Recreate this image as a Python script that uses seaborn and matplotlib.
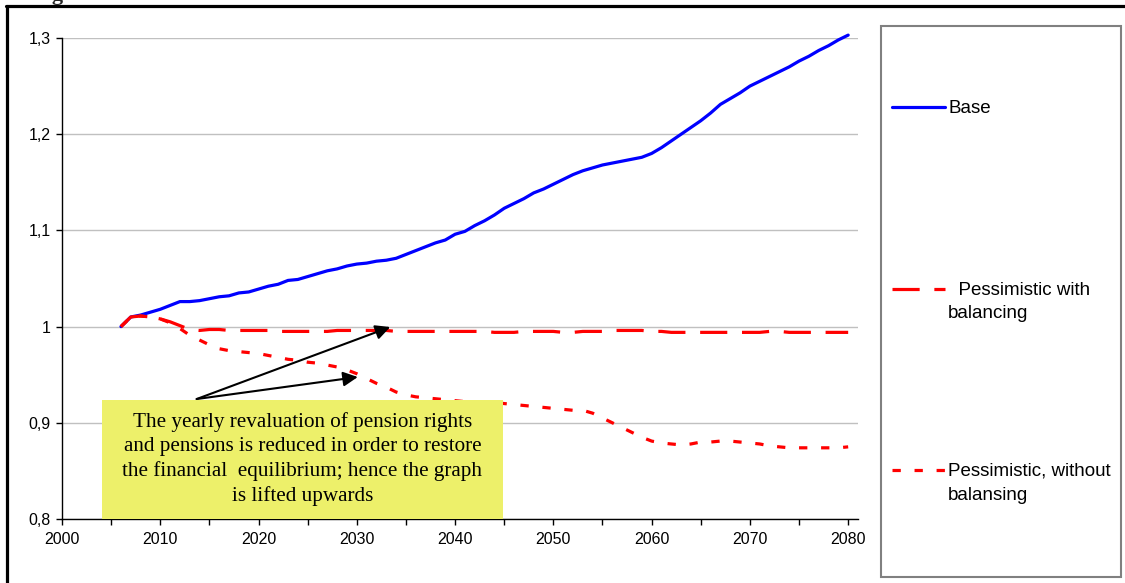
import matplotlib
matplotlib.use("Agg")
import matplotlib.pyplot as plt
from matplotlib.patches import Rectangle
from matplotlib.lines import Line2D
from matplotlib.ticker import FixedLocator, FixedFormatter
import pandas as pd
import seaborn as sns

# ---- data -------------------------------------------------------------
years = list(range(2006, 2081))

base = [
    1.000, 1.010, 1.012, 1.015, 1.018, 1.022, 1.026, 1.026, 1.027, 1.029,
    1.031, 1.032, 1.035, 1.036, 1.039, 1.042, 1.044, 1.048, 1.049, 1.052,
    1.055, 1.058, 1.060, 1.063, 1.065, 1.066, 1.068, 1.069, 1.071, 1.075,
    1.079, 1.083, 1.087, 1.090, 1.096, 1.099, 1.105, 1.110, 1.116, 1.123,
    1.128, 1.133, 1.139, 1.143, 1.148, 1.153, 1.158, 1.162, 1.165, 1.168,
    1.170, 1.172, 1.174, 1.176, 1.180, 1.186, 1.193, 1.200, 1.207, 1.214,
    1.222, 1.231, 1.237, 1.243, 1.250, 1.255, 1.260, 1.265, 1.270, 1.276,
    1.281, 1.287, 1.292, 1.298, 1.303,
]

pess_balancing = [
    1.000, 1.010, 1.011, 1.010, 1.008, 1.005, 1.001, 0.997, 0.996, 0.997,
    0.997, 0.996, 0.996, 0.996, 0.996, 0.996, 0.995, 0.995, 0.995, 0.995,
    0.995, 0.995, 0.996, 0.996, 0.996, 0.996, 0.996, 0.996, 0.995, 0.995,
    0.995, 0.995, 0.995, 0.995, 0.995, 0.995, 0.995, 0.995, 0.994, 0.994,
    0.994, 0.995, 0.995, 0.995, 0.995, 0.994, 0.994, 0.995, 0.995, 0.995,
    0.996, 0.996, 0.996, 0.996, 0.995, 0.995, 0.994, 0.994, 0.994, 0.994,
    0.994, 0.994, 0.994, 0.994, 0.994, 0.994, 0.995, 0.995, 0.994, 0.994,
    0.994, 0.994, 0.994, 0.994, 0.994,
]

pess_no_balancing = [
    1.000, 1.010, 1.011, 1.010, 1.008, 1.004, 0.998, 0.991, 0.986, 0.981,
    0.977, 0.975, 0.974, 0.973, 0.972, 0.970, 0.968, 0.966, 0.965, 0.963,
    0.962, 0.960, 0.958, 0.955, 0.951, 0.946, 0.941, 0.937, 0.932, 0.929,
    0.927, 0.926, 0.925, 0.924, 0.923, 0.922, 0.922, 0.921, 0.921, 0.920,
    0.919, 0.918, 0.917, 0.916, 0.915, 0.914, 0.913, 0.913, 0.910, 0.905,
    0.900, 0.895, 0.890, 0.885, 0.881, 0.879, 0.878, 0.877, 0.878, 0.880,
    0.880, 0.881, 0.881, 0.880, 0.879, 0.878, 0.876, 0.875, 0.874, 0.874,
    0.874, 0.874, 0.874, 0.874, 0.875,
]

series_labels = ["Base", "  Pessimistic with\nbalancing",
                 "Pessimistic, without\nbalansing"]
y_ticks = [0.8, 0.9, 1.0, 1.1, 1.2, 1.3]
y_tick_labels = ["0,8", "0,9", "1", "1,1", "1,2", "1,3"]
x_major = list(range(2000, 2081, 10))
x_minor = list(range(2005, 2081, 10))
note_text = ("The yearly revaluation of pension rights\n"
             "and pensions is reduced in order to restore\n"
             "the financial  equilibrium; hence the graph\n"
             "is lifted upwards")

# ---- styling ----------------------------------------------------------
sns.set_style("white")
plt.rcParams["font.family"] = ["Liberation Sans", "DejaVu Sans"]

colors = {"base": "#0000FF", "bal": "#FF0000", "nobal": "#FF0000"}
dash_styles = {"base": "", "bal": (8.5, 4.6), "nobal": (2.6, 4.3)}
LW = 2.3

df = pd.concat([
    pd.DataFrame({"year": years, "value": base, "series": "base"}),
    pd.DataFrame({"year": years, "value": pess_balancing, "series": "bal"}),
    pd.DataFrame({"year": years, "value": pess_no_balancing, "series": "nobal"}),
], ignore_index=True)

W, H = 1125, 583
fig = plt.figure(figsize=(W / 100, H / 100), dpi=100)
ax_w, ax_h = 858 - 62, 519 - 38
ax = fig.add_axes([62 / W, 1 - 519 / H, ax_w / W, ax_h / H])

sns.lineplot(data=df, x="year", y="value", hue="series", style="series",
             palette=colors, dashes=dash_styles, linewidth=LW,
             legend=False, ax=ax, zorder=3)
for ln in ax.lines:
    ln.set_clip_on(False)

ax.set_xlim(2000, 2081)
ax.set_ylim(0.8, 1.3)
ax.set_xlabel("")
ax.set_ylabel("")

ax.yaxis.set_major_locator(FixedLocator(y_ticks))
ax.yaxis.set_major_formatter(FixedFormatter(y_tick_labels))
ax.xaxis.set_major_locator(FixedLocator(x_major))
ax.xaxis.set_minor_locator(FixedLocator(x_minor))
ax.set_xticklabels([str(v) for v in x_major])

ax.grid(axis="y", color="#C0C0C0", linewidth=1.0)
ax.grid(axis="x", visible=False)
ax.set_axisbelow(True)

for side in ("top", "right"):
    ax.spines[side].set_visible(False)
for side in ("left", "bottom"):
    ax.spines[side].set_color("black")
    ax.spines[side].set_linewidth(1.0)

ax.tick_params(axis="both", which="both", direction="out", length=4,
               width=1, color="black", labelsize=11.5, labelcolor="black")
ax.tick_params(axis="x", which="both", pad=5, bottom=True)
ax.tick_params(axis="y", pad=4, left=True)

# ---- annotation box with arrows ---------------------------------------
box_left, box_right, box_top = 102 - 62, 503 - 62, 519 - 400
ax.add_patch(Rectangle((box_left / ax_w, 0), (box_right - box_left) / ax_w,
                       box_top / ax_h, transform=ax.transAxes,
                       facecolor="#EDF06A", edgecolor="none", zorder=6,
                       clip_on=False))
ax.text((box_left + box_right) / 2 / ax_w, (519 - 459) / ax_h, note_text,
        transform=ax.transAxes, ha="center", va="center",
        family=["Liberation Serif", "DejaVu Serif"], fontsize=15.2,
        linespacing=1.33, color="black", zorder=7)

arrow_start = (2013.7, 0.9247)
for tip in [(2033.4, 0.9996), (2030.1, 0.9476)]:
    ax.annotate("", xy=tip, xytext=arrow_start,
                arrowprops=dict(arrowstyle="-|>", color="black", lw=1.5,
                                mutation_scale=22, shrinkA=0, shrinkB=0),
                zorder=5)

# ---- legend panel -----------------------------------------------------
def fx(px):
    return px / W


def fy(py):
    return 1 - py / H


fig.add_artist(Rectangle((fx(881), fy(577)), fx(1121) - fx(881),
                         fy(26) - fy(577), transform=fig.transFigure,
                         facecolor="white", edgecolor="#808080", lw=1.5))

legend_rows = [107, 289, 470]
for key, label, row in zip(["base", "bal", "nobal"], series_labels, legend_rows):
    ln = Line2D([fx(892), fx(945)], [fy(row), fy(row)],
                transform=fig.transFigure, color=colors[key], lw=LW)
    if dash_styles[key]:
        ln.set_dashes(dash_styles[key])
    fig.add_artist(ln)
    fig.text(fx(948), fy(row - 7), label, ha="left", va="top",
             fontsize=13.5, linespacing=1.5, color="black")

# ---- outer frame and heading ------------------------------------------
fig.add_artist(Line2D([fx(6), 1], [fy(6), fy(6)], transform=fig.transFigure,
                      color="black", lw=2.3))
fig.add_artist(Line2D([fx(7), fx(7)], [0, fy(6)], transform=fig.transFigure,
                      color="black", lw=2.3))
fig.text(fx(33), 1.0, "Fig", ha="left", va="baseline", fontsize=16,
         fontweight="bold", family=["Liberation Serif", "DejaVu Serif"])

fig.savefig("out.png", dpi=100)
